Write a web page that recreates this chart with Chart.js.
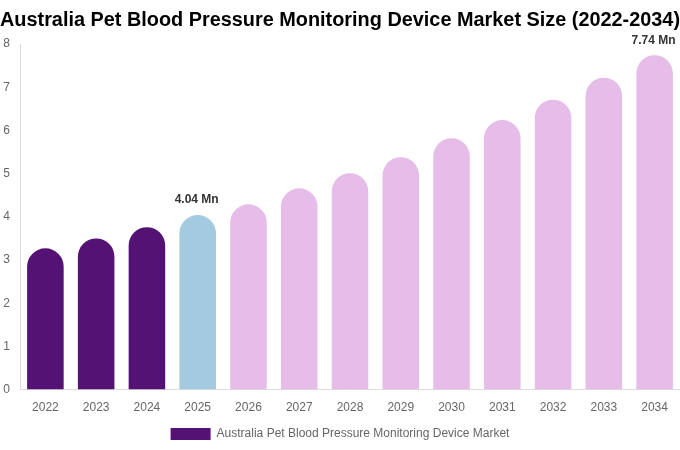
<!DOCTYPE html>
<html>
<head>
<meta charset="utf-8">
<script src="https://cdn.jsdelivr.net/npm/chart.js@4"></script>
<style>
html,body{margin:0;padding:0;background:#fff;}
#wrap{width:680px;height:450px;position:relative;}
</style>
</head>
<body>
<div id="wrap"><canvas id="c"></canvas></div>
<script>
const categories = ['2022','2023','2024','2025','2026','2027','2028','2029','2030','2031','2032','2033','2034'];
const values = [3.27, 3.50, 3.76, 4.04, 4.29, 4.66, 5.01, 5.38, 5.82, 6.24, 6.71, 7.22, 7.74];
const labelledIndexes = [3, 12];
const labelTexts = ['4.04 Mn', '7.74 Mn'];
const yTicks = [0,1,2,3,4,5,6,7,8];
const seriesName = 'Australia Pet Blood Pressure Monitoring Device Market';
const titleText = 'Australia Pet Blood Pressure Monitoring Device Market Size (2022-2034)';

const barColors = categories.map((c, i) => i < 3 ? '#541275' : (i === 3 ? '#A3CADF' : '#E6BCE8'));
const FONT = "'Liberation Sans', Arial, sans-serif";

const valueLabels = {
  id: 'valueLabels',
  afterDatasetsDraw(chart) {
    const ctx = chart.ctx;
    const meta = chart.getDatasetMeta(0);
    ctx.save();
    ctx.font = 'bold 12px ' + FONT;
    ctx.fillStyle = '#333';
    ctx.textAlign = 'center';
    ctx.textBaseline = 'bottom';
    labelledIndexes.forEach((idx, k) => {
      const bar = meta.data[idx];
      ctx.fillText(labelTexts[k], bar.x - 1, bar.y - 9);
    });
    ctx.restore();
  }
};

new Chart(document.getElementById('c'), {
  type: 'bar',
  data: {
    labels: categories,
    datasets: [{
      label: seriesName,
      data: values,
      backgroundColor: barColors,
      borderRadius: {topLeft: 30, topRight: 30, bottomLeft: 0, bottomRight: 0},
      borderSkipped: 'start'
    }]
  },
  options: {
    responsive: true,
    maintainAspectRatio: false,
    animation: false,
    layout: {padding: {left: 0, right: 0, top: 0, bottom: 0}},
    plugins: {
      title: {
        display: true,
        text: titleText,
        color: '#000',
        font: {family: FONT, size: 20, weight: 'bold'},
        padding: {top: 8, bottom: 12}
      },
      legend: {
        display: true,
        position: 'bottom',
        labels: {
          color: '#666',
          font: {family: FONT, size: 12},
          boxWidth: 40,
          boxHeight: 12,
          generateLabels: () => [{text: seriesName, fillStyle: '#541275', strokeStyle: '#541275', lineWidth: 0, fontColor: '#666'}]
        }
      },
      tooltip: {enabled: false}
    },
    scales: {
      x: {
        grid: {display: false},
        border: {display: true, color: '#ddd'},
        ticks: {color: '#666', font: {family: FONT, size: 12}}
      },
      y: {
        min: 0,
        max: 8,
        afterBuildTicks: (axis) => { axis.ticks = yTicks.map(v => ({value: v})); },
        grid: {display: false},
        border: {display: true, color: '#ddd'},
        ticks: {color: '#666', font: {family: FONT, size: 12}, padding: 2},
        afterFit: (axis) => { axis.width = 20; }
      }
    }
  },
  plugins: [valueLabels]
});
</script>
</body>
</html>
